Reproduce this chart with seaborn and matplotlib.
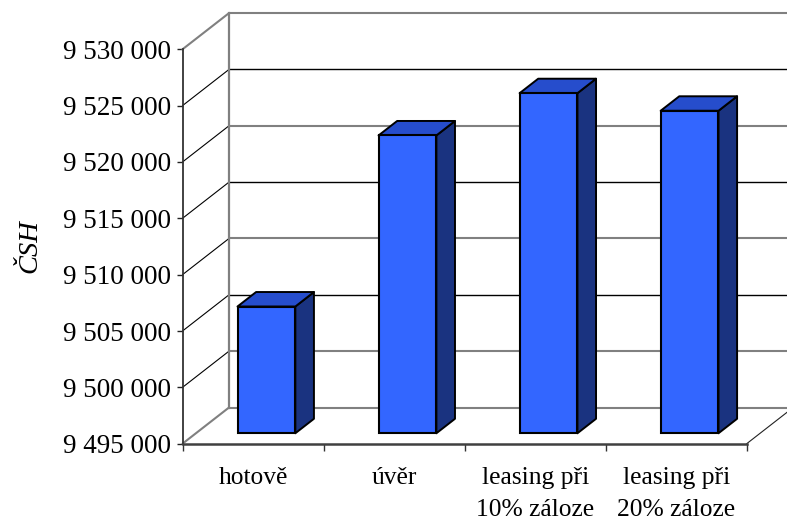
import matplotlib
matplotlib.use("Agg")
import matplotlib.pyplot as plt
from matplotlib.patches import Polygon
import pandas as pd
import seaborn as sns

# Chart values
categories = ["hotově", "úvěr", "leasing při\n10% záloze", "leasing při\n20% záloze"]
csh_values = [9506250, 9521430, 9525180, 9523620]
axis_levels = [9495000, 9500000, 9505000, 9510000, 9515000, 9520000, 9525000, 9530000]
axis_labels = ["9 495 000", "9 500 000", "9 505 000", "9 510 000",
               "9 515 000", "9 520 000", "9 525 000", "9 530 000"]
y_title = "ČSH"

W, H = 787, 523
DPI = 100

sns.set_theme(style="white")
plt.rcParams["font.family"] = ["Liberation Serif", "DejaVu Serif"]

fig = plt.figure(figsize=(W / DPI, H / DPI), dpi=DPI, facecolor="white")

# Front plane of the oblique box, in figure pixels
left, right, top, bottom = 182.5, 746.7, 49.3, 443.7
ax = fig.add_axes([left / W, 1 - bottom / H, (right - left) / W, (bottom - top) / H])

frame = pd.DataFrame({"kind": categories, "csh": csh_values})
sns.barplot(data=frame, x="kind", y="csh", ax=ax, color="#3366FF", width=0.41,
            saturation=1, edgecolor="black", linewidth=1.5, zorder=4)

ymin, ymax = axis_levels[0], axis_levels[-1]
ax.set_xlim(-0.5, len(categories) - 0.5)
ax.set_ylim(ymin, ymax)

# Oblique depth vector, expressed in data units
px_per_cat = (right - left) / len(categories)
px_per_val = (bottom - top) / (ymax - ymin)
DX = 46.5 / px_per_cat
DY = 36.2 / px_per_val


def project(x, y, depth):
    return (x + depth * DX, y + depth * DY)


GRAY = "#808080"
BLACK = "#000000"
level_colors = [GRAY, GRAY, BLACK, GRAY, BLACK, GRAY, BLACK, GRAY]
x0, x1 = ax.get_xlim()

# Side wall, back wall and floor
for level, color in zip(axis_levels, level_colors):
    lw = 1.5 if color == GRAY else 1.0
    back_a = project(x0, level, 1)
    back_b = project(x1, level, 1)
    ax.plot([back_a[0], back_b[0]], [back_a[1], back_b[1]], color=color, lw=lw,
            clip_on=False, zorder=1, solid_capstyle="butt")
    ax.plot([x0, back_a[0]], [level, back_a[1]],
            color=GRAY if level in (ymin, ymax) else BLACK,
            lw=1.5 if level in (ymin, ymax) else 0.8, clip_on=False, zorder=1)

wall_a = project(x0, ymin, 1)
wall_b = project(x0, ymax, 1)
ax.plot([wall_a[0], wall_b[0]], [wall_a[1], wall_b[1]], color=GRAY, lw=1.6,
        clip_on=False, zorder=1, solid_capstyle="projecting")
floor_end = project(x1, ymin, 1)
ax.plot([x1, floor_end[0]], [ymin, floor_end[1]], color="#222222", lw=0.8,
        clip_on=False, zorder=1)

# Push the bars into the box and add their top and side faces
near, far = 0.288, 0.688
for patch, value in zip(ax.patches, csh_values):
    bx0 = patch.get_x()
    bx1 = bx0 + patch.get_width()
    px, py = project(bx0, ymin, near)
    patch.set_x(px)
    patch.set_y(py)
    patch.set_height(value - ymin)
    patch.set_clip_on(False)

    side = [project(bx1, ymin, near), project(bx1, value, near),
            project(bx1, value, far), project(bx1, ymin, far)]
    lid = [project(bx0, value, near), project(bx1, value, near),
           project(bx1, value, far), project(bx0, value, far)]
    ax.add_patch(Polygon(side, closed=True, facecolor="#1A3380", edgecolor="black",
                         linewidth=1.4, clip_on=False, zorder=3, joinstyle="round"))
    ax.add_patch(Polygon(lid, closed=True, facecolor="#264DCC", edgecolor="black",
                         linewidth=1.4, clip_on=False, zorder=3, joinstyle="round"))

# Axes furniture
for name in ("top", "right"):
    ax.spines[name].set_visible(False)
ax.spines["left"].set_color("#333333")
ax.spines["left"].set_linewidth(1.3)
ax.spines["bottom"].set_color("#404040")
ax.spines["bottom"].set_linewidth(1.8)
ax.spines["left"].set_zorder(2)
ax.spines["bottom"].set_zorder(2)

ax.set_yticks(axis_levels)
ax.set_yticklabels(axis_labels, fontsize=19.5, color="black")
ax.tick_params(axis="y", which="major", left=True, length=4.5, width=1, color="#222222",
               pad=4)
for tick, level in zip(ax.yaxis.get_major_ticks(), axis_levels):
    if level in (9515000, 9525000):
        tick.tick1line.set_color(GRAY)

n = len(categories)
ax.set_xticks([i - 0.5 for i in range(n + 1)])
ax.set_xticklabels([""] * (n + 1))
ax.set_xticks(list(range(n)), minor=True)
ax.set_xticklabels(categories, minor=True, fontsize=18.4, color="black", linespacing=1.55)
ax.tick_params(axis="x", which="major", bottom=True, length=5, width=1, color="#333333")
ax.tick_params(axis="x", which="minor", bottom=False, length=0, pad=17)

ax.set_xlabel("")
ax.set_ylabel("")
fig.text(30 / W, 1 - 246 / H, y_title, rotation=90, ha="center", va="center",
         fontsize=20.5, style="italic", color="black")

fig.savefig("out.png", dpi=DPI, facecolor="white")
